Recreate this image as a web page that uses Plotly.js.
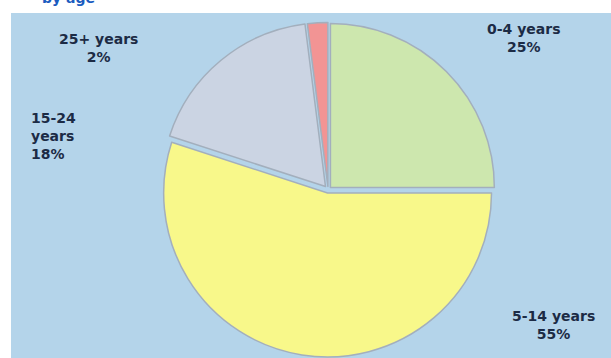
<!DOCTYPE html>
<html>
<head>
<meta charset="utf-8">
<script src="https://cdn.plot.ly/plotly-3.0.1.min.js"></script>
<style>
html,body{margin:0;padding:0;background:#fff;}
#chart{width:611px;height:358px;}
</style>
</head>
<body>
<div id="chart"></div>
<script>
var categories = ["0-4 years", "5-14 years", "15-24 years", "25+ years"];
var shares = [25, 55, 18, 2];
var labelTexts = ["0-4 years<br>25%", "5-14 years<br>55%", "15-24<br>years<br>18%", "25+ years<br>2%"];
var sliceColors = ["#cde7ae", "#f8f88a", "#cbd4e3", "#f29494"];
var chartTitle = "by age";

var labelPos = [
  {x: 523, y: 38, align: "center"},
  {x: 553, y: 325, align: "center"},
  {x: 29, y: 136, align: "left"},
  {x: 98, y: 48, align: "center"}
];

var W = 611, H = 358;

var trace = {
  type: "pie",
  labels: categories,
  values: shares,
  sort: false,
  direction: "clockwise",
  rotation: 0,
  pull: [0.02, 0.02, 0.025, 0.02],
  textinfo: "none",
  hoverinfo: "label+percent",
  marker: {colors: sliceColors, line: {color: "#a3afbd", width: 1.5}},
  domain: {x: [0.262, 0.812], y: [0, 0.94]},
  showlegend: false
};

var annotations = labelTexts.map(function(t, i) {
  return {
    text: "<b>" + t + "</b>",
    x: labelPos[i].x / W,
    y: 1 - labelPos[i].y / H,
    xref: "paper", yref: "paper",
    xanchor: labelPos[i].align === "left" ? "left" : "center",
    yanchor: "middle",
    align: labelPos[i].align,
    showarrow: false,
    font: {family: "DejaVu Sans, Verdana, sans-serif", size: 14, color: "#1c2b45"}
  };
});
annotations.push({
  text: "<b>" + chartTitle + "</b>",
  x: 40 / W, y: 1 + 2 / H,
  xref: "paper", yref: "paper",
  xanchor: "left", yanchor: "middle",
  showarrow: false,
  font: {family: "DejaVu Sans, Verdana, sans-serif", size: 14, color: "#1b5cc0"}
});

var layout = {
  width: W, height: H,
  margin: {l: 0, r: 0, t: 0, b: 0},
  paper_bgcolor: "#ffffff",
  shapes: [{
    type: "rect", xref: "paper", yref: "paper",
    x0: 11 / W, x1: 1, y0: 0, y1: 1 - 13 / H,
    fillcolor: "#b4d4ea", line: {width: 0}, layer: "below"
  }],
  annotations: annotations
};

Plotly.newPlot("chart", [trace], layout, {displayModeBar: false, staticPlot: true});
</script>
</body>
</html>
